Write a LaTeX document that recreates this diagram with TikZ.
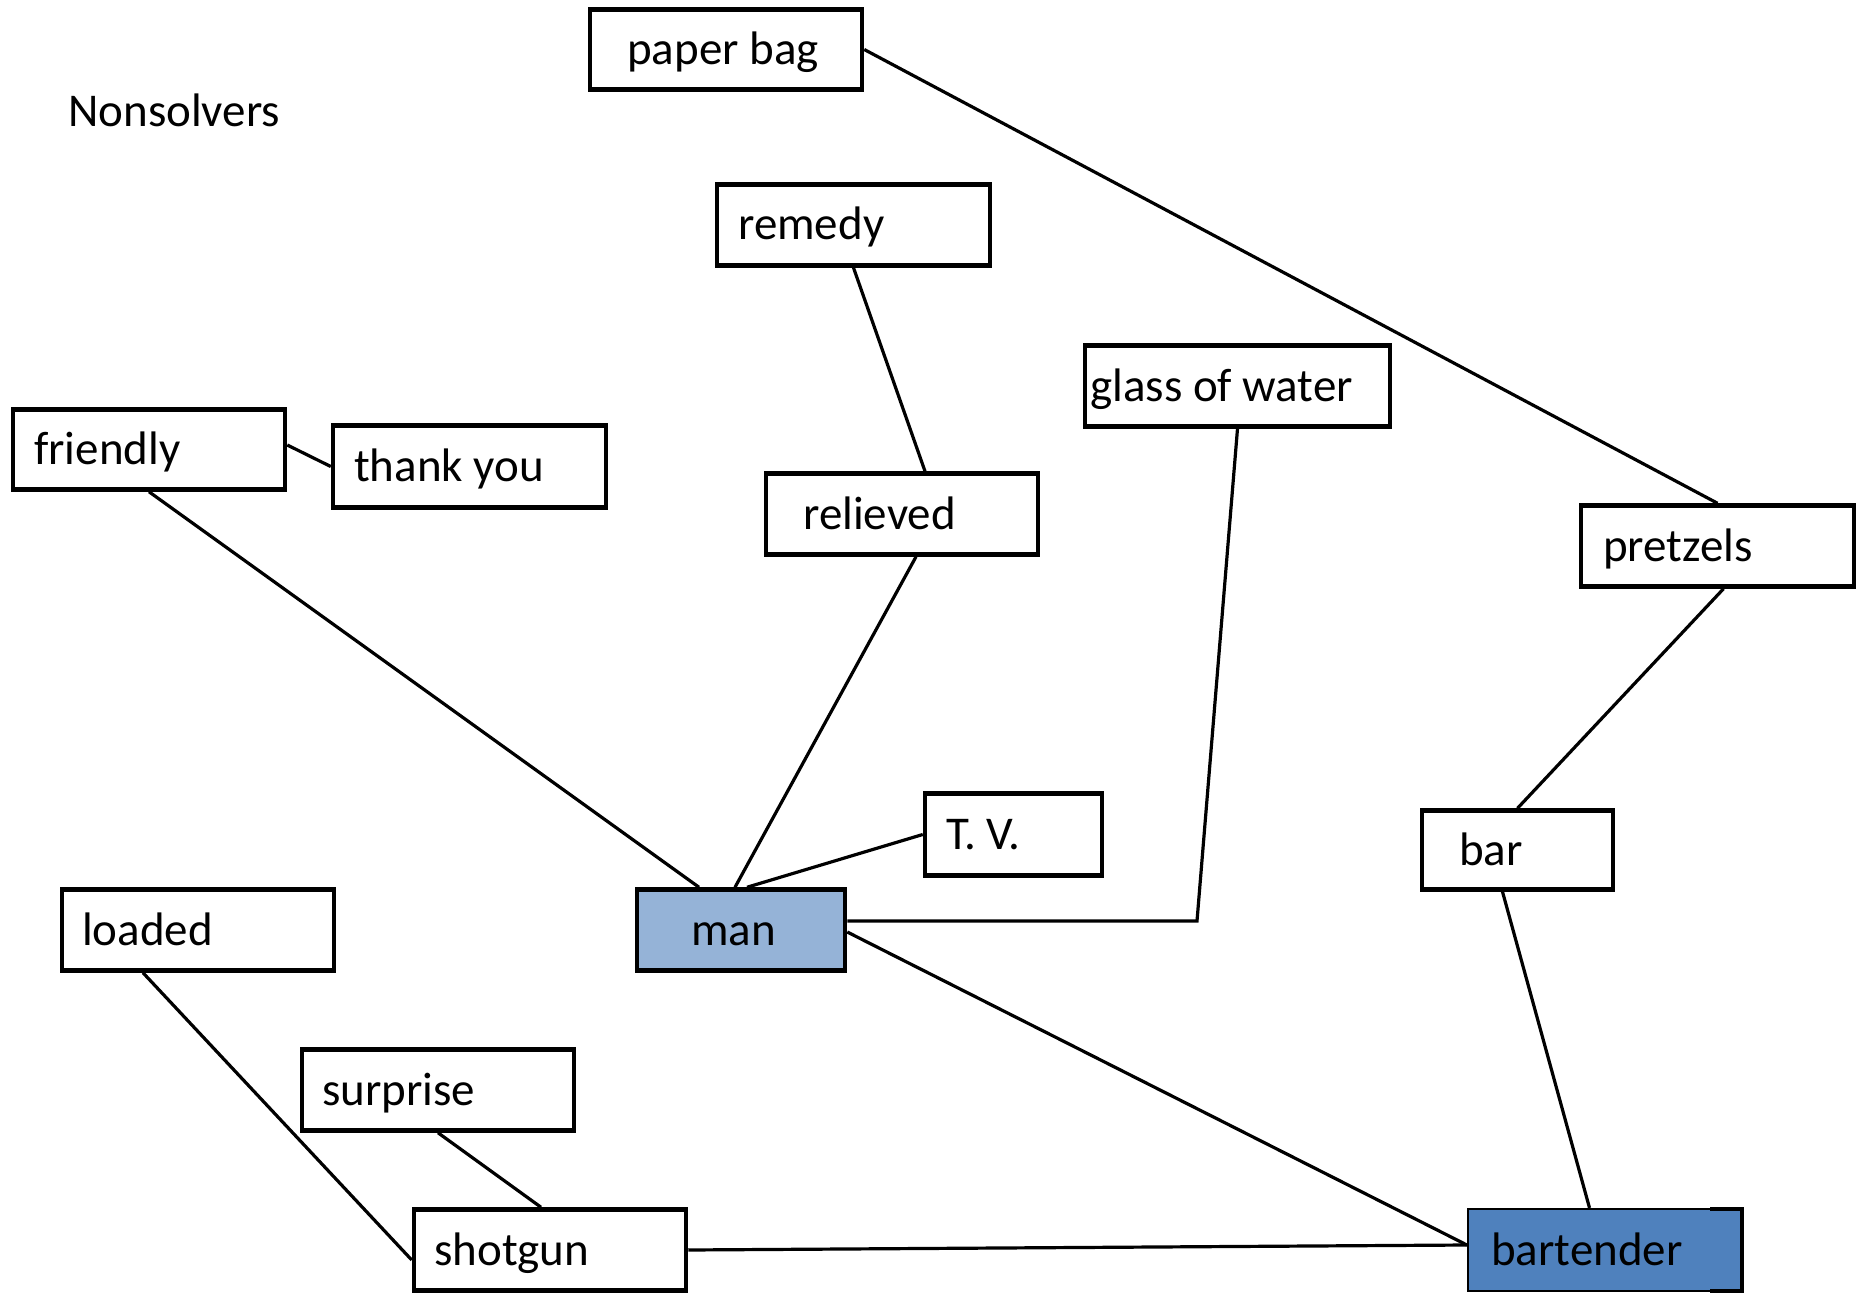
\documentclass[tikz,border=0pt]{standalone}
\usepackage{fontspec}
\setmainfont{Carlito}
\definecolor{manblue}{HTML}{95B3D7}
\definecolor{btblue}{HTML}{4F81BD}
\tikzset{
  x=1pt,y=-1pt,
  box/.style={draw=black, line width=4.5pt, fill=white, inner sep=0pt, rectangle},
  lbl/.style={anchor=base west, inner sep=0pt, font=\fontsize{47}{56}\selectfont},
  conn/.style={draw=black, line width=3.2pt},
}
\begin{document}
\begin{tikzpicture}
\useasboundingbox (0,0) rectangle (1864,1300);
% boxes
\node[box, minimum width=272pt, minimum height=80pt] (pb) at (726,49.5) {};
\node[box, minimum width=273pt, minimum height=81pt] (re) at (853.5,225) {};
\node[box, minimum width=305pt, minimum height=81pt] (gw) at (1237.5,386) {};
\node[box, minimum width=272pt, minimum height=80pt] (fr) at (149,449.5) {};
\node[box, minimum width=273pt, minimum height=82pt] (ty) at (469.5,466.5) {};
\node[box, minimum width=272pt, minimum height=81pt] (rl) at (902,514) {};
\node[box, minimum width=273pt, minimum height=81pt] (pr) at (1717.5,546) {};
\node[box, minimum width=177pt, minimum height=82pt] (tv) at (1013.5,834.5) {};
\node[box, minimum width=191pt, minimum height=79pt] (br) at (1517.5,850) {};
\node[box, minimum width=272pt, minimum height=81pt] (ld) at (198,930) {};
\node[box, fill=manblue, minimum width=208pt, minimum height=81pt] (mn) at (741,930) {};
\node[box, minimum width=272pt, minimum height=81pt] (sp) at (438,1090) {};
\node[box, minimum width=272pt, minimum height=81pt] (sg) at (550,1250) {};
\node[box, fill=btblue, line width=2.2pt, minimum width=273pt, minimum height=82pt] (bt) at (1604.5,1250) {};
\draw[line width=4.5pt] (1710,1209) -- (1742,1209) -- (1742,1291) -- (1710,1291);
% labels
\node[lbl] (tNon) at (68,127) {Nonsolvers};
\node[lbl] at (627,65) {paper bag};
\node[lbl] at (738,240) {remedy};
\node[lbl] at (1090,401) {glass of water};
\node[lbl] at (34,464.5) {friendly};
\node[lbl] at (354,481.5) {thank you};
\node[lbl] at (803,529) {relieved};
\node[lbl] at (1603,561) {pretzels};
\node[lbl] at (946,849.5) {T. V.};
\node[lbl] at (1459,865) {bar};
\node[lbl] at (82,945) {loaded};
\node[lbl] at (691,945) {man};
\node[lbl] at (322,1105) {surprise};
\node[lbl] at (434,1265) {shotgun};
\node[lbl] at (1491,1265) {bartender};
% connectors
\coordinate (gwc) at (1197,921);
\draw[conn] (pb.east) -- (pr.north);
\draw[conn] (re.south) -- ([xshift=23pt]rl.north);
\draw[conn] ([xshift=14pt]rl.south) -- ([xshift=-6pt]mn.north);
\draw[conn] ([yshift=4.5pt]fr.east) -- (ty.west);
\draw[conn] (fr.south) -- ([xshift=-42pt]mn.north);
\draw[conn] (tv.west) -- ([xshift=6pt]mn.north);
\draw[conn] (gw.south) -- (gwc) -- ([yshift=9pt]mn.east);
\draw[conn] ([xshift=6pt]pr.south) -- (br.north);
\draw[conn] ([xshift=-15pt]br.south) -- ([xshift=-15pt]bt.north);
\draw[conn] ([yshift=-2pt]mn.east) -- ([yshift=5pt]bt.west);
\draw[conn] (sg.east) -- ([yshift=5pt]bt.west);
\draw[conn] ([xshift=-55pt]ld.south) -- ([yshift=-10pt]sg.west);
\draw[conn] (sp.south) -- ([xshift=-9pt]sg.north);
\end{tikzpicture}
\end{document}
